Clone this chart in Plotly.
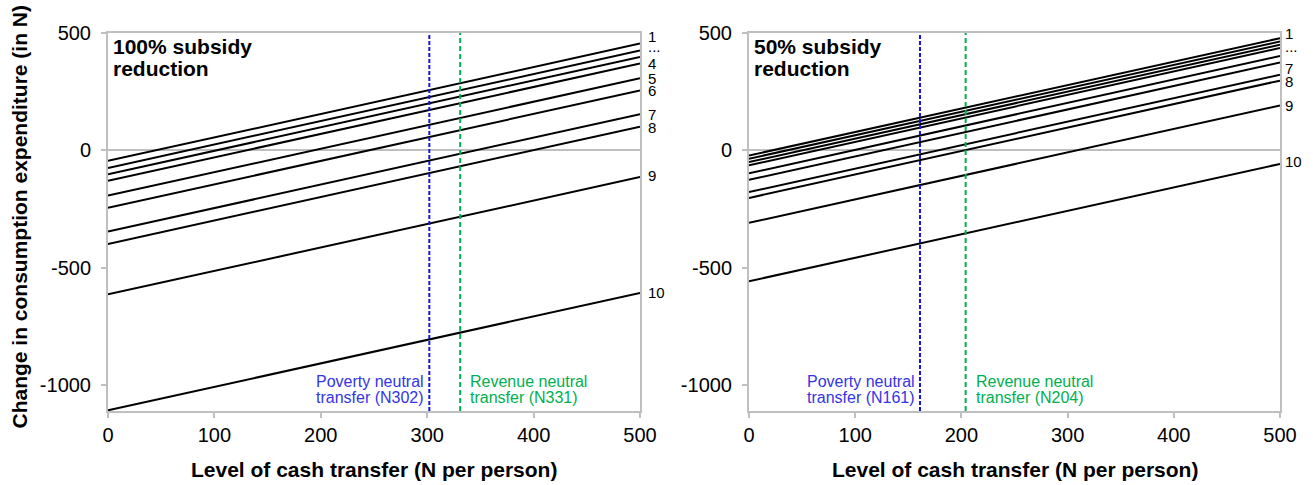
import plotly.graph_objects as go

# Cash transfer levels (N per person) at which each line is evaluated
transfer = [0, 500]

# Change in consumption expenditure (N) by decile, at transfer 0 and 500
full_start = [-45, -75, -102, -130, -193, -245, -346, -399, -614, -1108]
full_end = [455, 425, 398, 370, 307, 255, 154, 101, -114, -608]

half_start = [-22, -36, -50, -64, -98, -126, -178, -203, -309, -558]
half_end = [478, 464, 450, 436, 402, 374, 322, 297, 191, -58]

# Reference transfers: poverty neutral and revenue neutral
poverty_neutral = [302, 161]
revenue_neutral = [331, 204]

panel_titles = [["100% subsidy", "reduction"], ["50% subsidy", "reduction"]]

# End labels: (text, index of line the label sits beside, vertical nudge in px)
full_labels = [("1", 0, 7), ("...", 1, 4), ("4", 3, 0), ("5", 4, 0), ("6", 5, 0),
               ("7", 6, 0), ("8", 7, -1), ("9", 8, 2), ("10", 9, 0)]
half_labels = [("1", 0, 5), ("...", 3, 2), ("7", 6, 6), ("8", 7, -1),
               ("9", 8, 0), ("10", 9, 2)]

y_ticks = [-1000, -500, 0, 500]
y_tick_text = ["-1000", "-500", "0", "500"]
x_ticks = [0, 100, 200, 300, 400, 500]

W, H = 1313, 485
FONT = "Liberation Sans, Arial, sans-serif"
GRAY = "#BFBFBF"
BLUE_LINE = "#1414DC"
BLUE_TEXT = "#3434E6"
GREEN = "#00B050"


def py(p):
    """Pixel row to paper coordinate."""
    return 1 - p / H


fig = go.Figure()

panels = [
    dict(xa="x", ya="y", start=full_start, end=full_end, labels=full_labels,
         dom=[108 / W, 640 / W], lab_shift=6),
    dict(xa="x2", ya="y2", start=half_start, end=half_end, labels=half_labels,
         dom=[749 / W, 1280 / W], lab_shift=3),
]

annotations = []
shapes = []

for i, p in enumerate(panels):
    for s, e in zip(p["start"], p["end"]):
        fig.add_trace(go.Scatter(
            x=transfer, y=[s, e], mode="lines",
            line=dict(color="black", width=2),
            xaxis=p["xa"], yaxis=p["ya"], showlegend=False, hoverinfo="skip"))

    for text, idx, nudge in p["labels"]:
        annotations.append(dict(
            x=transfer[-1], y=p["end"][idx], xref=p["xa"], yref=p["ya"],
            text=text, showarrow=False, xanchor="left", yanchor="middle",
            xshift=p["lab_shift"], yshift=nudge,
            font=dict(family=FONT, size=15, color="black")))

    # Panel title (two lines, tight leading)
    for k, (line, yc) in enumerate(zip(panel_titles[i], [46, 68.5])):
        annotations.append(dict(
            x=0, y=py(yc), xref=p["xa"], yref="paper", text="<b>%s</b>" % line,
            showarrow=False, xanchor="left", yanchor="middle", xshift=3,
            font=dict(family=FONT, size=21, color="black")))

    xref = p["xa"]
    yref_dom = p["ya"] + " domain"
    shapes.append(dict(type="line", xref=xref, yref=yref_dom,
                       x0=poverty_neutral[i], x1=poverty_neutral[i], y0=0, y1=1,
                       line=dict(color=BLUE_LINE, width=2, dash="4px,2px")))
    shapes.append(dict(type="line", xref=xref, yref=yref_dom,
                       x0=revenue_neutral[i], x1=revenue_neutral[i], y0=0, y1=1,
                       line=dict(color=GREEN, width=2, dash="5px,3px")))

    pov_lines = ["Poverty neutral", "transfer (N%d)" % poverty_neutral[i]]
    rev_lines = ["Revenue neutral", "transfer (N%d)" % revenue_neutral[i]]
    for line, yc in zip(pov_lines, [381.5, 397.5]):
        annotations.append(dict(
            x=poverty_neutral[i], y=py(yc), xref=xref, yref="paper", text=line,
            showarrow=False, xanchor="right", yanchor="middle", xshift=-3,
            font=dict(family=FONT, size=16, color=BLUE_TEXT)))
    for line, yc in zip(rev_lines, [381.5, 397.5]):
        annotations.append(dict(
            x=revenue_neutral[i], y=py(yc), xref=xref, yref="paper", text=line,
            showarrow=False, xanchor="left", yanchor="middle", xshift=8,
            font=dict(family=FONT, size=16, color=GREEN)))

    # X axis title under each panel
    annotations.append(dict(
        x=(p["dom"][0] + p["dom"][1]) / 2, y=py(469.5), xref="paper", yref="paper",
        text="<b>Level of cash transfer (N per person)</b>", showarrow=False,
        xanchor="center", yanchor="middle",
        font=dict(family=FONT, size=21, color="black")))

# Shared Y axis title
annotations.append(dict(
    x=19 / W, y=py(216.5), xref="paper", yref="paper",
    text="<b>Change in consumption expenditure (in N)</b>", showarrow=False,
    textangle=-90, xanchor="center", yanchor="middle",
    font=dict(family=FONT, size=21, color="black")))

axis_common = dict(
    showline=True, linecolor=GRAY, linewidth=2, mirror=True,
    ticks="outside", ticklen=5, tickwidth=2, tickcolor=GRAY,
    showgrid=False, automargin=False,
    tickfont=dict(family=FONT, size=20, color="black"),
)
ydom = [1 - 411 / H, 1 - 33 / H]

fig.update_layout(
    template="none",
    width=W, height=H, margin=dict(l=0, r=0, t=0, b=0, pad=0, autoexpand=False),
    paper_bgcolor="white", plot_bgcolor="white",
    xaxis=dict(domain=panels[0]["dom"], range=[0, 500], tickvals=x_ticks,
               zeroline=False, anchor="y", **axis_common),
    yaxis=dict(domain=ydom, range=[-1111, 500], tickvals=y_ticks,
               ticktext=y_tick_text,
               zeroline=True, zerolinecolor=GRAY, zerolinewidth=2,
               anchor="x", ticklabelstandoff=6, **axis_common),
    xaxis2=dict(domain=panels[1]["dom"], range=[0, 500], tickvals=x_ticks,
                zeroline=False, anchor="y2", **axis_common),
    yaxis2=dict(domain=ydom, range=[-1111, 500], tickvals=y_ticks,
                ticktext=y_tick_text,
                zeroline=True, zerolinecolor=GRAY, zerolinewidth=2,
                anchor="x2", ticklabelstandoff=6, **axis_common),
    annotations=annotations, shapes=shapes,
)

fig.write_html("out.html")
